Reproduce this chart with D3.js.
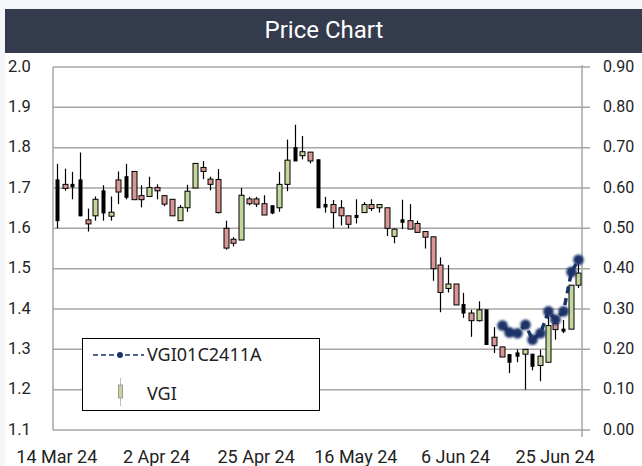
<!DOCTYPE html>
<html>
<head>
<meta charset="utf-8">
<script src="https://cdn.jsdelivr.net/npm/d3@7"></script>
<style>
  body { margin: 0; background: #f5f6fa; }
</style>
</head>
<body>
<div id="chart"></div>
<script>
// candle data (one entry per trading day)
var open  = [1.720,1.709,1.709,1.720,1.621,1.631,1.693,1.630,1.720,1.728,1.741,1.681,1.679,1.701,1.681,1.672,1.619,1.651,1.700,1.751,
             1.722,1.721,1.600,1.573,1.571,1.673,1.673,1.661,1.656,1.651,1.709,1.800,1.780,1.789,1.770,1.659,1.659,1.651,1.631,1.632,
             1.639,1.659,1.651,1.651,1.580,1.621,1.619,1.612,1.592,1.579,1.509,1.451,1.462,1.411,1.390,1.371,1.398,1.330,1.306,1.287,
             1.291,1.288,1.288,1.260,1.268,1.364,1.350,1.350,1.459];
var high  = [1.760,1.748,1.740,1.788,1.649,1.679,1.707,1.679,1.741,1.760,1.741,1.707,1.728,1.709,1.681,1.672,1.658,1.708,1.761,1.767,
             1.728,1.747,1.619,1.578,1.700,1.678,1.678,1.682,1.657,1.740,1.820,1.857,1.829,1.789,1.770,1.678,1.670,1.670,1.631,1.672,
             1.665,1.672,1.659,1.651,1.600,1.671,1.660,1.619,1.592,1.579,1.528,1.509,1.462,1.440,1.398,1.419,1.398,1.355,1.306,1.287,
             1.300,1.300,1.288,1.299,1.382,1.376,1.373,1.459,1.516];
var low   = [1.600,1.693,1.672,1.630,1.592,1.619,1.619,1.619,1.660,1.672,1.671,1.652,1.679,1.672,1.655,1.631,1.619,1.641,1.700,1.722,
             1.694,1.637,1.547,1.555,1.571,1.657,1.653,1.633,1.635,1.641,1.692,1.767,1.771,1.761,1.651,1.639,1.600,1.607,1.600,1.612,
             1.639,1.643,1.639,1.581,1.563,1.598,1.598,1.590,1.550,1.470,1.392,1.441,1.410,1.378,1.331,1.369,1.312,1.291,1.281,1.241,
             1.268,1.200,1.248,1.221,1.268,1.324,1.340,1.350,1.452];
var close = [1.619,1.699,1.703,1.631,1.611,1.672,1.638,1.640,1.690,1.677,1.671,1.671,1.701,1.693,1.660,1.631,1.652,1.692,1.761,1.741,
             1.709,1.639,1.551,1.563,1.682,1.661,1.660,1.633,1.638,1.709,1.769,1.767,1.790,1.767,1.651,1.653,1.639,1.631,1.610,1.627,
             1.659,1.649,1.659,1.600,1.598,1.615,1.598,1.590,1.578,1.500,1.441,1.462,1.410,1.390,1.371,1.398,1.312,1.309,1.281,1.268,
             1.283,1.300,1.258,1.283,1.359,1.349,1.345,1.459,1.489];
// "b" = candles drawn with a solid black body
var kind  = ["b","d","b","b","d","u","b","u","d","b","d","d","u","d","d","d","u","u","u","d",
             "d","d","d","d","u","d","d","d","b","u","u","b","u","d","b","b","d","d","d","b",
             "u","d","u","d","u","b","d","d","d","d","d","u","d","b","d","u","b","d","d","b",
             "b","u","b","u","u","d","b","u","u"];

// VGI01C2411A, right axis
var bondIndex  = [58, 59, 60, 61, 62, 63, 64, 65, 66, 67, 68];
var bondValues = [0.259, 0.242, 0.240, 0.261, 0.224, 0.240, 0.294, 0.274, 0.294, 0.392, 0.422];

var tickIndex  = [0, 13, 26, 39, 52, 65];
var tickLabels = ["14 Mar 24", "2 Apr 24", "25 Apr 24", "16 May 24", "6 Jun 24", "25 Jun 24"];
var leftTicks  = [1.1, 1.2, 1.3, 1.4, 1.5, 1.6, 1.7, 1.8, 1.9, 2.0];
var rightTicks = [0, 0.1, 0.2, 0.3, 0.4, 0.5, 0.6, 0.7, 0.8, 0.9];

var W = 642, H = 466;
var plot = {left: 53, right: 582, top: 67, bottom: 430};
var font = "Roboto, sans-serif";

var svg = d3.select("#chart")
  .append("svg")
    .attr("width", W)
    .attr("height", H);

svg.append("rect")
  .attr("x", 5).attr("y", 9)
  .attr("width", W - 5).attr("height", H - 9)
  .attr("fill", "#fff");

// title bar
svg.append("rect")
  .attr("x", 5).attr("y", 9)
  .attr("width", W - 5).attr("height", 44)
  .attr("fill", "#333b4d");
svg.append("text")
  .attr("x", 324).attr("y", 30)
  .attr("dy", "0.35em")
  .attr("text-anchor", "middle")
  .attr("fill", "#fff")
  .attr("font-family", font)
  .attr("font-size", 24)
  .text("Price Chart");

var x = d3.scaleBand()
  .domain(d3.range(open.length))
  .range([plot.left, plot.right])
  .padding(0);
var cx = i => Math.round(x(i) + x.bandwidth() / 2) + 0.5;

var yL = d3.scaleLinear().domain([1.1, 2.0]).range([plot.bottom, plot.top]);
var yR = d3.scaleLinear().domain([0, 0.9]).range([plot.bottom, plot.top]);

// grid
svg.append("g")
  .selectAll("line")
  .data(leftTicks)
  .join("line")
    .attr("x1", plot.left)
    .attr("x2", plot.right + 8)
    .attr("y1", d => yL(d))
    .attr("y2", d => yL(d))
    .attr("stroke", "#a6a6a6")
    .attr("stroke-width", 1.5);

// axis lines
svg.append("line")
  .attr("x1", plot.left).attr("x2", plot.left)
  .attr("y1", plot.top).attr("y2", plot.bottom)
  .attr("stroke", "#a6a6a6").attr("stroke-width", 1.5);
svg.append("line")
  .attr("x1", plot.right).attr("x2", plot.right)
  .attr("y1", plot.top - 2).attr("y2", plot.bottom + 7)
  .attr("stroke", "#a6a6a6").attr("stroke-width", 1.5);

var leftAxis = svg.append("g")
  .attr("transform", "translate(8,0)")
  .call(d3.axisLeft(yL).tickValues(leftTicks).tickFormat(d3.format(".1f")).tickSize(0));
leftAxis.select(".domain").remove();
leftAxis.selectAll("text")
  .attr("x", 0)
  .attr("dy", "0.25em")
  .attr("text-anchor", "start")
  .attr("fill", "#222")
  .attr("font-family", font)
  .attr("font-size", 16.5);

var rightAxis = svg.append("g")
  .attr("transform", "translate(603,0)")
  .call(d3.axisRight(yR).tickValues(rightTicks).tickFormat(d3.format(".2f")).tickSize(0));
rightAxis.select(".domain").remove();
rightAxis.selectAll("text")
  .attr("x", 0)
  .attr("dy", "0.25em")
  .attr("fill", "#222")
  .attr("font-family", font)
  .attr("font-size", 16);

var xAxis = svg.append("g")
  .attr("transform", "translate(0," + 447 + ")")
  .call(d3.axisBottom(x).tickValues(tickIndex).tickFormat((d, i) => tickLabels[i]).tickSize(0));
xAxis.select(".domain").remove();
xAxis.selectAll("text")
  .attr("fill", "#222")
  .attr("font-family", font)
  .attr("font-size", 18);

// legend box (drawn before the marks so candles stay on top)
var legend = svg.append("g");
legend.append("rect")
  .attr("x", 82.5).attr("y", 338.5)
  .attr("width", 237).attr("height", 72)
  .attr("fill", "#fff")
  .attr("stroke", "#000");

var fillFor = {u: "#c4d79b", d: "#d99694", b: "#000"};

// candles
var candles = svg.append("g")
  .selectAll("g")
  .data(d3.range(open.length))
  .join("g");

candles.append("line")
  .attr("x1", cx).attr("x2", cx)
  .attr("y1", i => yL(high[i]))
  .attr("y2", i => yL(low[i]))
  .attr("stroke", "#000")
  .attr("stroke-width", 1.2);

candles.append("rect")
  .attr("x", i => cx(i) - (kind[i] == "b" ? 1.5 : 2.5))
  .attr("width", i => kind[i] == "b" ? 3 : 5)
  .attr("y", i => yL(Math.max(open[i], close[i])))
  .attr("height", i => Math.max(1, Math.abs(yL(open[i]) - yL(close[i]))))
  .attr("fill", i => fillFor[kind[i]])
  .attr("stroke", "#000")
  .attr("stroke-width", 1);

// bond line with soft markers
var defs = svg.append("defs");
defs.append("filter")
  .attr("id", "soft")
  .attr("x", "-50%").attr("y", "-50%").attr("width", "200%").attr("height", "200%")
  .append("feGaussianBlur")
  .attr("stdDeviation", 1.2);

var navy = "#1a3368";
var line = d3.line()
  .x((d, i) => cx(bondIndex[i]))
  .y(d => yR(d));

svg.append("path")
  .datum(bondValues)
  .attr("d", line)
  .attr("fill", "none")
  .attr("stroke", navy)
  .attr("stroke-width", 3.5)
  .attr("stroke-dasharray", "7,5");

svg.append("g")
  .attr("filter", "url(#soft)")
  .selectAll("circle")
  .data(bondValues)
  .join("circle")
    .attr("cx", (d, i) => cx(bondIndex[i]))
    .attr("cy", d => yR(d))
    .attr("r", 5.3)
    .attr("fill", navy);

// legend entries
legend.append("line")
  .attr("x1", 93).attr("x2", 144)
  .attr("y1", 355).attr("y2", 355)
  .attr("stroke", navy)
  .attr("stroke-width", 1.6)
  .attr("stroke-dasharray", "5,3");
legend.append("circle")
  .attr("cx", 120).attr("cy", 355).attr("r", 3)
  .attr("fill", navy);
legend.append("text")
  .attr("x", 147).attr("y", 355).attr("dy", "0.35em")
  .attr("font-family", "Noto Sans, sans-serif")
  .attr("font-size", 18)
  .attr("fill", "#222")
  .text("VGI01C2411A");

legend.append("line")
  .attr("x1", 120.5).attr("x2", 120.5)
  .attr("y1", 378).attr("y2", 406)
  .attr("stroke", "#bbb");
legend.append("rect")
  .attr("x", 118.5).attr("y", 385)
  .attr("width", 4).attr("height", 13)
  .attr("fill", "#c4d79b")
  .attr("stroke", "#8a8a8a")
  .attr("stroke-width", 0.8);
legend.append("text")
  .attr("x", 147).attr("y", 394).attr("dy", "0.35em")
  .attr("font-family", "Noto Sans, sans-serif")
  .attr("font-size", 18)
  .attr("fill", "#222")
  .text("VGI");
</script>
</body>
</html>
